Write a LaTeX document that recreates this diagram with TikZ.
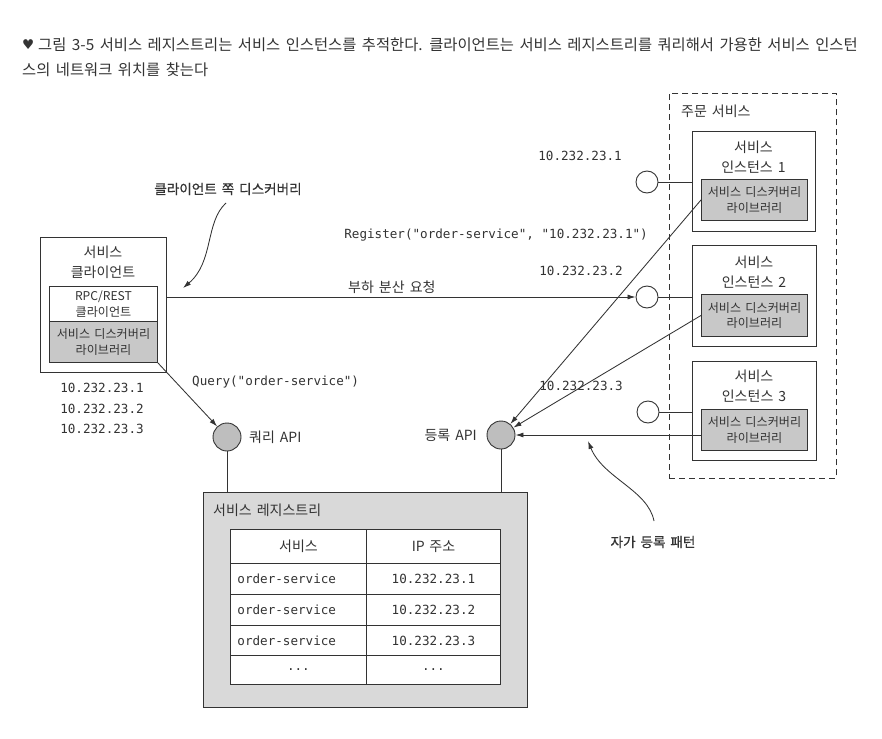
\documentclass[tikz,border=0pt]{standalone}
\usepackage{fontspec}
\setmainfont{Noto Sans CJK KR}[WordSpace=1.6]
\newfontfamily\monof{DejaVu Sans Mono}
\newfontfamily\symf{DejaVu Sans}
\newfontfamily\korb{Noto Sans CJK KR}[FakeBold=0.6, WordSpace=1.6]
\usetikzlibrary{arrows.meta,calc}
\definecolor{ink}{HTML}{333333}
\definecolor{libgray}{HTML}{C8C8C8}
\definecolor{reggray}{HTML}{D9D9D9}
\definecolor{apigray}{HTML}{BEBEBE}
\tikzset{
  kor/.style={font=\fontsize{14}{19.5}\selectfont, text=ink, inner sep=0pt, align=center},
  mono/.style={font=\monof\fontsize{12.6}{20.5}\selectfont, text=ink, inner sep=0pt, align=center},
  box/.style={draw=ink, line width=0.9pt, fill=white, inner sep=0pt, anchor=north west},
  libbox/.style={box, fill=libgray, font=\fontsize{12.1}{15.5}\selectfont, align=center, text=ink},
  ocirc/.style={circle, draw=ink, line width=0.9pt, fill=white, minimum size=22pt, inner sep=0pt},
  api/.style={circle, draw=ink, line width=0.9pt, fill=apigray, minimum size=28pt, inner sep=0pt},
  conn/.style={draw=ink, line width=0.85pt},
  arr/.style={conn, -{Latex[length=8pt,width=5pt]}},
  cell/.style={draw=ink, line width=0.9pt, fill=white, anchor=north west, inner xsep=7pt, inner ysep=0pt, text=ink},
  lcell/.style={cell, font=\monof\fontsize{12.6}{15}\selectfont, text width=122pt, align=left},
  rcell/.style={cell, font=\monof\fontsize{12.6}{15}\selectfont, text width=120pt, align=center},
  annot/.style={inner sep=0pt, text=ink, font=\korb\fontsize{13.6}{16}\selectfont},
}
\begin{document}
\begin{tikzpicture}[x=1pt,y=-1pt]
\useasboundingbox (0,0) rectangle (882,738);
\fill[white] (0,0) rectangle (882,738);

% caption
\node (heart) [anchor=west, inner sep=0pt, text=ink, font=\symf\fontsize{13.5}{15}\selectfont] at (22,45) {♥};
\node (cap1) [anchor=west, inner sep=0pt, text=ink, font=\fontsize{15.35}{18}\selectfont] at (38,45) {그림 3-5 서비스 레지스트리는 서비스 인스턴스를 추적한다. 클라이언트는 서비스 레지스트리를 쿼리해서 가용한 서비스 인스턴};
\node (cap2) [anchor=west, inner sep=0pt, text=ink, font=\fontsize{15.35}{18}\selectfont] at (22,70) {스의 네트워크 위치를 찾는다};

% order service group
\node (order) [draw=ink, dash pattern=on 6pt off 4pt, line width=0.9pt, minimum width=167pt, minimum height=385pt, anchor=north west, inner sep=0pt] at (669,93) {};
\node (ordlbl) [kor, anchor=west] at (681,111) {주문 서비스};

% instances
\node (inst1) [box, minimum width=123pt, minimum height=100pt] at (692,131) {};
\node (inst1t) [kor] at (753.5,157) {서비스\\인스턴스 1};
\node (lib1) [libbox, minimum width=106pt, minimum height=41pt] at (701,179) {서비스 디스커버리\\라이브러리};

\node (inst2) [box, minimum width=124pt, minimum height=101pt] at (692,245) {};
\node (inst2t) [kor] at (754,272) {서비스\\인스턴스 2};
\node (lib2) [libbox, minimum width=106pt, minimum height=42pt] at (701,294) {서비스 디스커버리\\라이브러리};

\node (inst3) [box, minimum width=124pt, minimum height=99pt] at (692,361) {};
\node (inst3t) [kor] at (754,386) {서비스\\인스턴스 3};
\node (lib3) [libbox, minimum width=106pt, minimum height=41pt] at (701,409) {서비스 디스커버리\\라이브러리};

% instance endpoints
\node (c1) [ocirc] at (647,182) {};
\node (c2) [ocirc] at (647,297) {};
\node (c3) [ocirc] at (648,412) {};
\node (ip1) [mono, anchor=east] at (622,156) {10.232.23.1};
\node (ip2) [mono, anchor=east] at (623,271) {10.232.23.2};
\node (ip3) [mono, anchor=east] at (623,386) {10.232.23.3};
\draw[conn] (c1) -- (c1 -| inst1.west);
\draw[conn] (c2) -- (c2 -| inst2.west);
\draw[conn] (c3) -- (c3 -| inst3.west);

% client
\node (client) [box, minimum width=126pt, minimum height=135pt] at (40,237) {};
\node (clientt) [kor] at (103,262.5) {서비스\\클라이언트};
\node (rpc) [box, minimum width=108pt, minimum height=35pt, font=\fontsize{12.1}{16}\selectfont, align=center, text=ink] at (49,286) {RPC/REST\\클라이언트};
\node (clib) [libbox, minimum width=108pt, minimum height=41pt] at (49,321) {서비스 디스커버리\\라이브러리};
\node (clips) [mono] at (102,408.5) {10.232.23.1\\10.232.23.2\\10.232.23.3};

% APIs
\node (qapi) [api] at (227,437) {};
\node (qapil) [kor, anchor=west] at (249,437) {쿼리 API};
\node (rapi) [api] at (501,435) {};
\node (rapil) [kor, anchor=east] at (477,435) {등록 API};

% registry
\node (registry) [box, fill=reggray, line width=1pt, minimum width=324pt, minimum height=215pt] at (203,492) {};
\node (regl) [kor, anchor=west] at (213,510) {서비스 레지스트리};

\node (h1) [cell, text width=122pt, align=center, minimum height=34pt, font=\fontsize{14}{15}\selectfont] at (230,529) {서비스};
\node (h2) [cell, text width=120pt, align=center, minimum height=34pt, font=\fontsize{14}{15}\selectfont] at (366,529) {IP 주소};
\node (r1a) [lcell, minimum height=31pt] at (230,563) {order-service};
\node (r1b) [rcell, minimum height=31pt] at (366,563) {10.232.23.1};
\node (r2a) [lcell, minimum height=31pt] at (230,594) {order-service};
\node (r2b) [rcell, minimum height=31pt] at (366,594) {10.232.23.2};
\node (r3a) [lcell, minimum height=30pt] at (230,625) {order-service};
\node (r3b) [rcell, minimum height=30pt] at (366,625) {10.232.23.3};
\node (r4a) [rcell, text width=122pt, minimum height=29pt] at (230,655) {...};
\node (r4b) [rcell, minimum height=29pt] at (366,655) {...};

% connectors
\draw[conn] (qapi) -- (qapi |- registry.north);
\draw[conn] (rapi) -- (rapi |- registry.north);
\draw[arr] (clib.south east) -- (qapi);
\draw[arr] (client.east |- c2) -- (c2);
\draw[arr] (lib1.west) -- (rapi);
\draw[arr] (lib2.west) -- (rapi);
\draw[arr] (lib3.west |- rapi) -- (rapi);

% connector labels
\node (lbl) [kor, anchor=west] at (348,287) {부하 분산 요청};
\node (qlbl) [mono, anchor=west] at (192,382) {Query("order-service")};
\node (rlbl) [mono, anchor=east] at (648,235) {Register("order-service", "10.232.23.1")};

% annotations
\node (cdl) [annot] at (228,189) {클라이언트 쪽 디스커버리};
\coordinate (cdstart) at (226,203);
\coordinate (cdend) at (183,288);
\draw[arr] (cdstart) .. controls (205,222) and (214,262) .. (cdend);

\node (srl) [annot] at (653,542) {자가 등록 패턴};
\coordinate (srstart) at (654,521);
\coordinate (srend) at (588,441);
\draw[arr] (srstart) .. controls (648,490) and (603,478) .. (srend);
\end{tikzpicture}
\end{document}
